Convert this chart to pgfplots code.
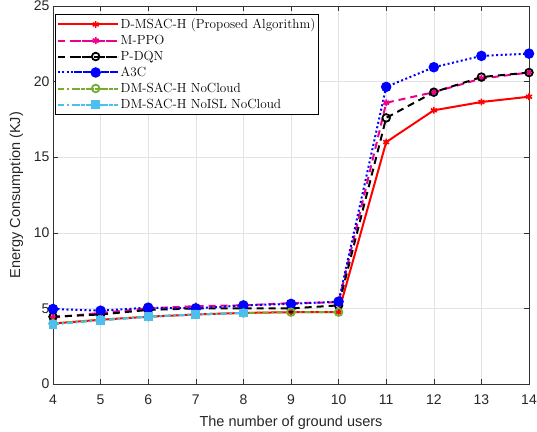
\documentclass[border=0pt]{standalone}
\usepackage{fontspec}
\setmainfont{Liberation Sans}
\newfontfamily\lmr{Latin Modern Roman}
\usepackage{pgfplots}
\pgfplotsset{compat=1.18}
\definecolor{mgreen}{RGB}{119,172,48}
\definecolor{mcyan}{RGB}{77,190,238}
\begin{document}
\begin{tikzpicture}
\begin{axis}[
  scale only axis,
  width=476pt, height=378pt,
  xmin=4, xmax=14, ymin=0, ymax=25,
  xtick={4,5,...,14}, ytick={0,5,...,25},
  grid=major,
  grid style={gray!22, line width=0.6pt},
  tick align=inside,
  major tick length=5pt,
  tick style={black!80, line width=0.6pt},
  axis line style={black!80, line width=0.6pt},
  ticklabel style={font=\fontsize{14}{16}\selectfont, text=black!85},
  /pgf/number format/assume math mode=true,
  xticklabel style={yshift=-7pt},
  xlabel={The number of ground users},
  ylabel={Energy Consumption (KJ)},
  label style={font=\fontsize{14.5}{16}\selectfont, text=black!85},
  xlabel style={yshift=-5pt},
  ylabel style={yshift=4pt},
  legend style={at={(0.005,0.979)}, anchor=north west, font=\lmr\fontsize{13.2}{15}\selectfont, draw=black, line width=0.6pt, row sep=1.1pt, inner xsep=1pt, inner ysep=2.5pt},
  legend cell align=left,
  legend image code/.code={
    \path (0pt,0pt) -- (60pt,0pt);
    \draw[mark repeat=2,mark phase=2,#1] plot coordinates {(16pt,0pt) (38pt,0pt) (60pt,0pt)};
  },
]
\addplot[red, line width=2pt, mark=asterisk, mark size=3.4pt, mark options={solid, line width=1.6pt}] coordinates {
(4,4.0) (5,4.25) (6,4.45) (7,4.6) (8,4.7) (9,4.75) (10,4.75) (11,16.0) (12,18.1) (13,18.65) (14,19.0)};
\addlegendentry{D-MSAC-H (Proposed Algorithm)}
\addplot[magenta, line width=2pt, dash pattern=on 7pt off 5pt, mark=asterisk, mark size=3.4pt, mark options={solid, line width=1.8pt}] coordinates {
(4,4.4) (5,4.7) (6,5.0) (7,5.15) (8,5.2) (9,5.35) (10,5.4) (11,18.6) (12,19.3) (13,20.2) (14,20.6)};
\addlegendentry{M-PPO}
\addplot[black, line width=2pt, dash pattern=on 7pt off 5pt, mark=o, mark size=3.8pt, mark options={solid, line width=1.8pt}] coordinates {
(4,4.45) (5,4.6) (6,4.9) (7,5.0) (8,5.0) (9,5.0) (10,5.2) (11,17.6) (12,19.3) (13,20.3) (14,20.6)};
\addlegendentry{P-DQN}
\addplot[blue, line width=2pt, dash pattern=on 2pt off 2.5pt, mark=*, mark size=4.2pt, mark options={solid, fill=blue}] coordinates {
(4,4.96) (5,4.85) (6,5.05) (7,5.0) (8,5.2) (9,5.3) (10,5.45) (11,19.65) (12,20.95) (13,21.7) (14,21.85)};
\addlegendentry{A3C}
\addplot[mgreen, line width=2pt, dash pattern=on 6pt off 3pt on 2pt off 3pt, mark=o, mark size=3.8pt, mark options={solid, line width=1.8pt}] coordinates {
(4,4.0) (5,4.25) (6,4.45) (7,4.6) (8,4.7) (9,4.75) (10,4.75)};
\addlegendentry{DM-SAC-H NoCloud}
\addplot[mcyan, line width=2pt, dash pattern=on 6pt off 3pt on 2pt off 3pt, mark=square*, mark size=3.4pt, mark options={solid, fill=mcyan}] coordinates {
(4,3.95) (5,4.2) (6,4.45) (7,4.6) (8,4.7)};
\addlegendentry{DM-SAC-H NoISL NoCloud}
\end{axis}
\pgfresetboundingbox
\path (current axis.south west) ++(-53pt,-47pt) rectangle ([xshift=8pt,yshift=6pt]current axis.north east);
\end{tikzpicture}
\end{document}
